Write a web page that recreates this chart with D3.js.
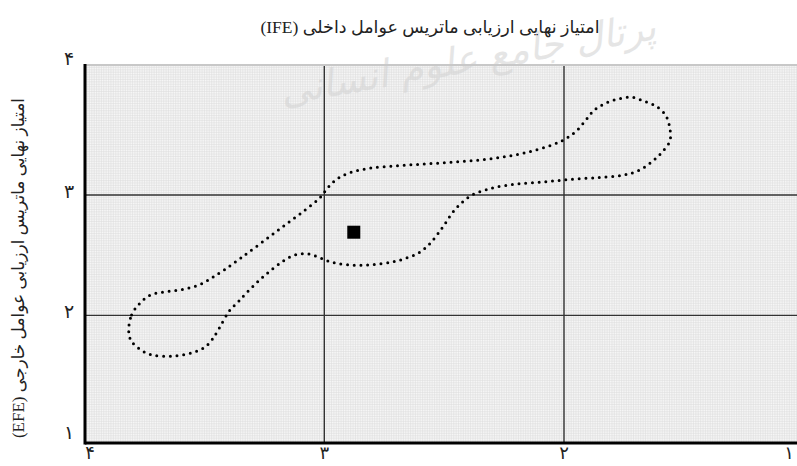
<!DOCTYPE html>
<html>
	<head>
		<title>IFE / EFE matrix</title>
		<meta charset="utf-8">
	</head>
	<body>
		<svg id="chart" width="797" height="466"></svg>
	</body>

	<script src="https://d3js.org/d3.v7.min.js"></script>
	<script>
		// axis ticks and their persian labels
		const xTicks = [4, 3, 2, 1];
		const yTicks = [1, 2, 3, 4];
		const tickLabels = {1: "۱", 2: "۲", 3: "۳", 4: "۴"};
		const quadrantLines = [3, 2];

		const titleText = "امتیاز نهایی ارزیابی ماتریس عوامل داخلی (IFE)";
		const yLabelText = "امتیاز نهایی ماتریس ارزیابی عوامل خارجی (EFE)";
		const watermarkText = "پرتال جامع علوم انسانی";

		// dotted region, IFE (x) and EFE (y) scores
		const regionIFE = [3.816, 3.804, 3.772, 3.727, 3.674, 3.619, 3.564, 3.513, 3.463, 3.417,
			3.349, 3.260, 3.171, 3.082, 3.018, 2.983, 2.943, 2.893, 2.811, 2.700,
			2.588, 2.477, 2.366, 2.256, 2.146, 2.040, 1.990, 1.946, 1.909, 1.875,
			1.828, 1.775, 1.719, 1.667, 1.617, 1.577, 1.559, 1.558, 1.590, 1.630,
			1.675, 1.726, 1.780, 1.864, 1.975, 2.086, 2.197, 2.281, 2.332, 2.384,
			2.428, 2.466, 2.498, 2.530, 2.566, 2.608, 2.659, 2.712, 2.796, 2.879,
			2.962, 3.014, 3.067, 3.121, 3.171, 3.238, 3.299, 3.356, 3.396, 3.438,
			3.466, 3.499, 3.551, 3.632, 3.715, 3.766, 3.806];
		const regionEFE = [1.871, 2.004, 2.095, 2.168, 2.193, 2.206, 2.228, 2.261, 2.320, 2.378,
			2.475, 2.607, 2.740, 2.873, 2.978, 3.066, 3.139, 3.185, 3.222, 3.243,
			3.257, 3.271, 3.288, 3.315, 3.359, 3.423, 3.471, 3.537, 3.622, 3.703,
			3.761, 3.797, 3.813, 3.780, 3.739, 3.666, 3.562, 3.451, 3.359, 3.282,
			3.218, 3.177, 3.158, 3.144, 3.130, 3.108, 3.091, 3.066, 3.039, 3.000,
			2.934, 2.851, 2.757, 2.668, 2.583, 2.516, 2.475, 2.446, 2.422, 2.417,
			2.438, 2.475, 2.510, 2.502, 2.452, 2.350, 2.239, 2.120, 2.037, 1.896,
			1.805, 1.736, 1.691, 1.661, 1.670, 1.714, 1.791];

		// the company position
		const positionIFE = [2.877];
		const positionEFE = [2.691];

		const svg = d3.select("#chart");

		const plot = {left: 85, top: 65, right: 797, bottom: 443};

		// x runs from 4 (left) down to 1, the right end is outside the picture
		const x = d3.scaleLinear().domain([4, 1]).range([84.6, 803.7]);
		const y = d3.scaleLinear().domain([0.94, 4.08]).range([443, 65]);

		const serif = "'Liberation Serif', 'DejaVu Sans', serif";

		// background paper
		svg.append("rect")
			.attr("x", plot.left).attr("y", plot.top)
			.attr("width", plot.right - plot.left).attr("height", plot.bottom - plot.top)
			.attr("fill", "#f6f6f6");

		// fine graph paper grid
		const grid = svg.append("g").attr("stroke", "#dcdcdc").attr("stroke-width", 0.55);
		const fineX = d3.range(0, 300).map(i => 4 - i * 0.01);
		const fineY = d3.range(0, 160).map(i => 0.94 + i * 0.02);

		grid.selectAll(".vx")
			.data(fineX)
			.enter().append("line")
				.attr("x1", d => x(d)).attr("x2", d => x(d))
				.attr("y1", plot.top).attr("y2", plot.bottom);

		grid.selectAll(".hy")
			.data(fineY.filter(d => y(d) > plot.top && y(d) < plot.bottom))
			.enter().append("line")
				.attr("x1", plot.left).attr("x2", plot.right)
				.attr("y1", d => y(d)).attr("y2", d => y(d));

		// watermark
		svg.append("text")
			.attr("x", 470).attr("y", 72)
			.attr("transform", "rotate(-10, 470, 72)")
			.attr("text-anchor", "middle")
			.attr("font-family", "'DejaVu Sans'")
			.attr("font-size", 38)
			.attr("font-style", "italic")
			.attr("fill", "#d4d4d4")
			.attr("opacity", 0.6)
			.text(watermarkText);

		// quadrant dividing lines
		svg.selectAll(".qx")
			.data(quadrantLines)
			.enter().append("line")
				.attr("x1", d => x(d)).attr("x2", d => x(d))
				.attr("y1", plot.top).attr("y2", plot.bottom)
				.attr("stroke", "#333").attr("stroke-width", 1.4);

		svg.selectAll(".qy")
			.data(quadrantLines)
			.enter().append("line")
				.attr("x1", plot.left).attr("x2", plot.right)
				.attr("y1", d => y(d)).attr("y2", d => y(d))
				.attr("stroke", "#333").attr("stroke-width", 1.4);

		// frame: light top edge, heavy left and bottom
		svg.append("line")
			.attr("x1", plot.left).attr("x2", plot.right)
			.attr("y1", plot.top).attr("y2", plot.top)
			.attr("stroke", "#c8c8c8").attr("stroke-width", 2);

		svg.append("line")
			.attr("x1", plot.left).attr("x2", plot.left)
			.attr("y1", plot.top - 1).attr("y2", plot.bottom + 1.5)
			.attr("stroke", "#000").attr("stroke-width", 3);

		svg.append("line")
			.attr("x1", plot.left).attr("x2", plot.right)
			.attr("y1", plot.bottom).attr("y2", plot.bottom)
			.attr("stroke", "#000").attr("stroke-width", 3);

		// dotted region
		const region = regionIFE.map((v, i) => [v, regionEFE[i]]);
		const regionLine = d3.line()
			.x(d => x(d[0]))
			.y(d => y(d[1]))
			.curve(d3.curveCatmullRomClosed);

		svg.append("path")
			.attr("d", regionLine(region))
			.attr("fill", "none")
			.attr("stroke", "#000")
			.attr("stroke-width", 3)
			.attr("stroke-linecap", "round")
			.attr("stroke-dasharray", "0 6.7");

		// position marker
		svg.selectAll(".pos")
			.data(positionIFE.map((v, i) => [v, positionEFE[i]]))
			.enter().append("rect")
				.attr("x", d => x(d[0]) - 6.5)
				.attr("y", d => y(d[1]) - 6.5)
				.attr("width", 13).attr("height", 13)
				.attr("fill", "#000");

		// tick labels
		svg.selectAll(".xt")
			.data(xTicks)
			.enter().append("text")
				.attr("x", d => Math.max(90, Math.min(789, x(d))))
				.attr("y", 459)
				.attr("text-anchor", "middle")
				.attr("font-family", "'DejaVu Sans'")
				.attr("font-size", 18)
				.attr("fill", "#222")
				.text(d => tickLabels[d]);

		svg.selectAll(".yt")
			.data(yTicks)
			.enter().append("text")
				.attr("x", 69)
				.attr("y", d => d === 4 ? plot.top : y(d) + 3)
				.attr("text-anchor", "middle")
				.attr("font-family", "'DejaVu Sans'")
				.attr("font-size", 19)
				.attr("fill", "#222")
				.text(d => tickLabels[d]);

		// titles
		svg.append("text")
			.attr("x", 430).attr("y", 33)
			.attr("text-anchor", "middle")
			.attr("direction", "rtl")
			.attr("font-family", serif)
			.attr("font-size", 17.5)
			.attr("fill", "#222")
			.text(titleText);

		svg.append("text")
			.attr("transform", "translate(24, 268) rotate(-90)")
			.attr("text-anchor", "middle")
			.attr("direction", "rtl")
			.attr("font-family", serif)
			.attr("font-size", 17)
			.attr("fill", "#222")
			.text(yLabelText);
	</script>

	<style>
		html, body
		{
			margin: 0;
			background: #fff;
			overflow: hidden;
		}

		#chart
		{
			display: block;
		}
	</style>
</html>
